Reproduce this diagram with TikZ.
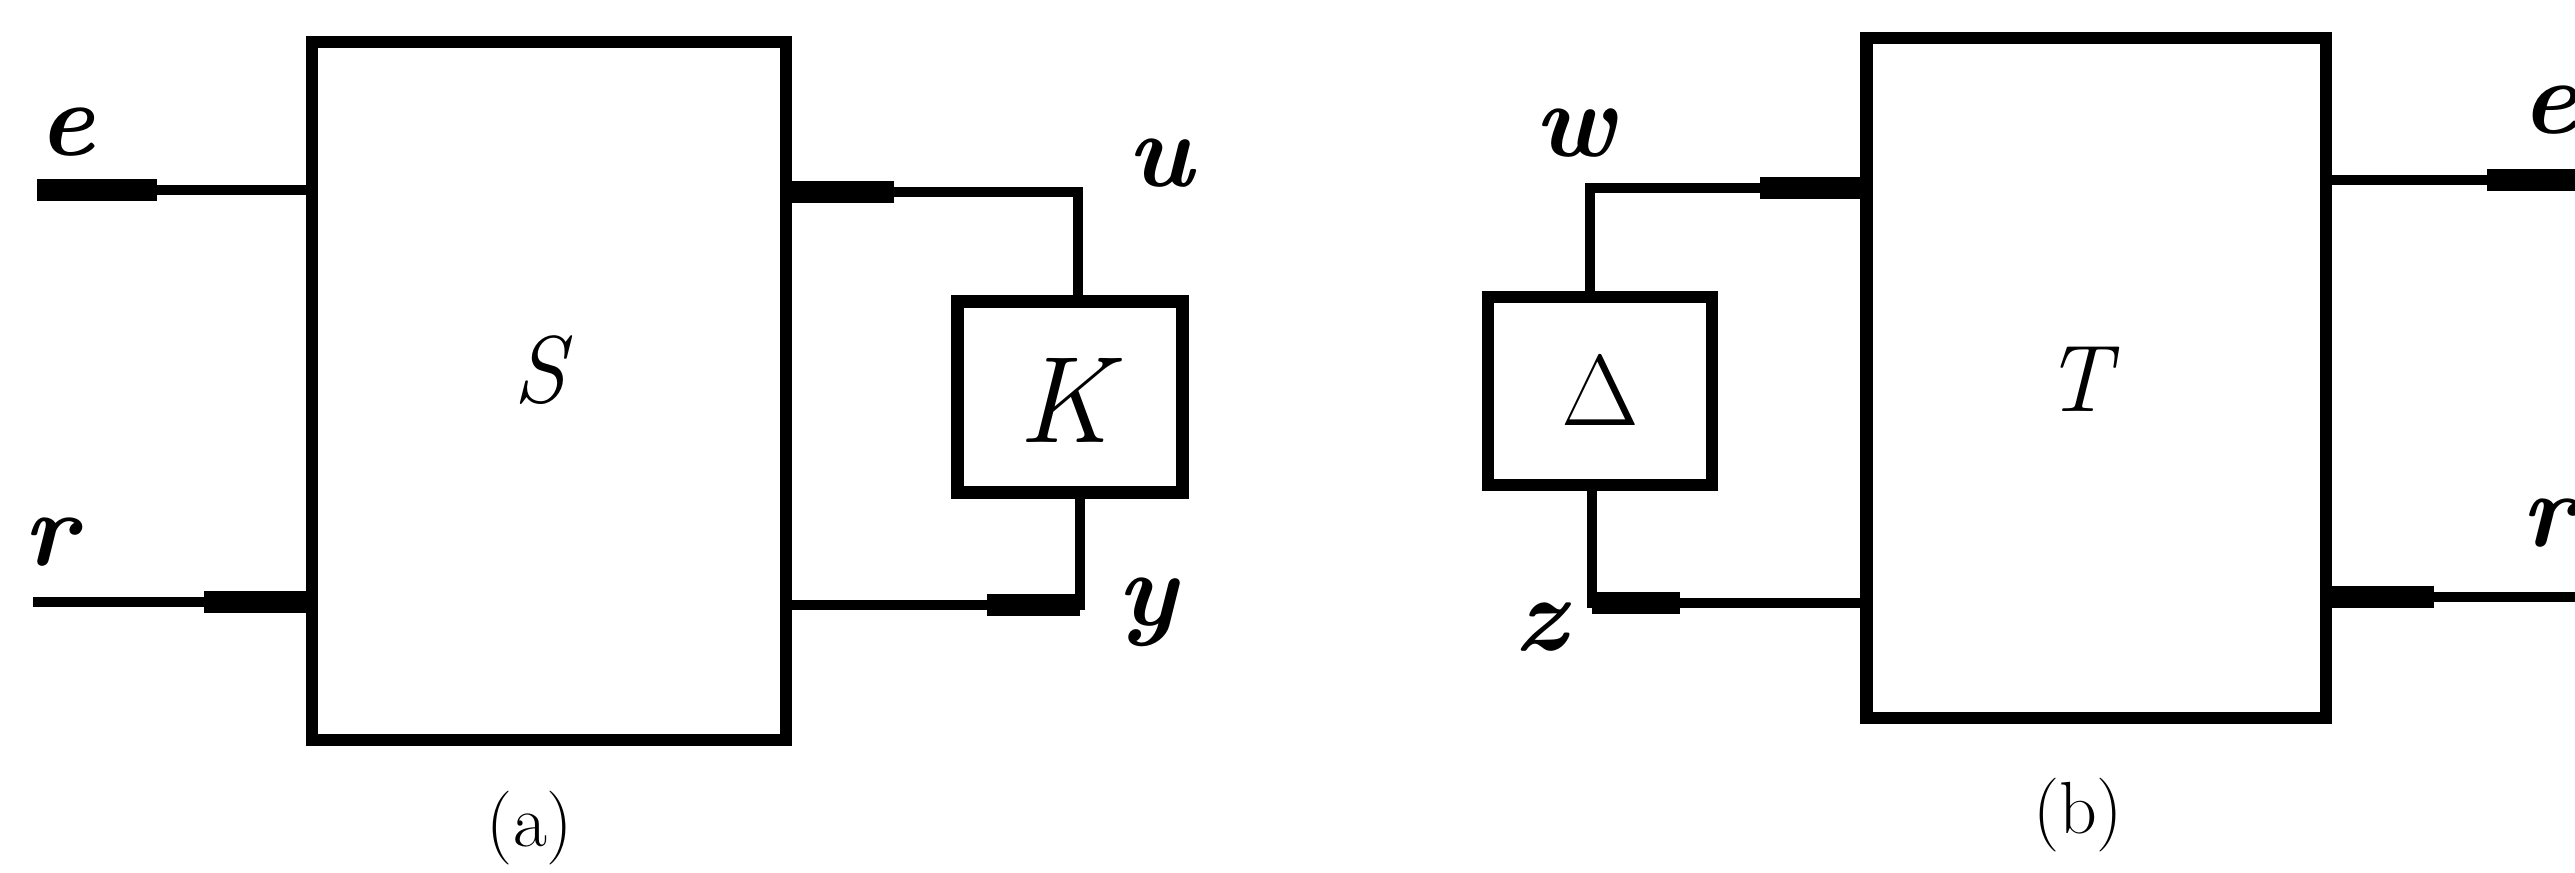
\documentclass[tikz,border=0pt]{standalone}
\usepackage{graphicx}
\begin{document}
\begin{tikzpicture}[x=0.01cm,y=-0.01cm,
  blk/.style={draw, line width=3.5pt, inner sep=0pt},
  wire/.style={line width=2.7pt},
  heavy/.style={line width=6.5pt},
  lab/.style={font=\fontsize{30}{36}\selectfont\bfseries\itshape, inner sep=0pt},
  big/.style={font=\fontsize{27}{32}\selectfont\itshape, inner sep=0pt},
  subcap/.style={font=\fontsize{21}{26}\selectfont, inner sep=0pt}]
\useasboundingbox (0,0) rectangle (2575,872);
% ---- (a) ----
\node[blk, minimum width=4.74cm, minimum height=6.98cm] (S) at (549,391) {};
\node[big] (Sl) at (540,370) {S};
\node[blk, minimum width=2.25cm, minimum height=1.91cm] (K) at (1070,397) {};
\node[big, font=\fontsize{35}{40}\selectfont\itshape] (Kl) at (1065,400) {K};
\coordinate (eA) at (37,190);
\coordinate (rA) at (33,602);
\coordinate (uA) at (1078,192);
\coordinate (yA) at (1080,605);
\draw[wire] (eA) -- (eA -| S.west);
\draw[heavy] (eA) -- ++(120,0);
\draw[wire] (rA) -- (rA -| S.west);
\draw[heavy] (rA -| S.west) -- ++(-102,0);
\draw[wire] (uA -| S.east) -- (uA) -- (uA |- K.north);
\draw[heavy] (uA -| S.east) -- ++(102,0);
\draw[wire] (yA |- K.south) -- (yA) -- (yA -| S.east);
\draw[heavy] (yA) -- ++(-93,0);
\node[lab] (le) at (67,132) {e};
\node[lab] (lr) at (50,542) {r};
\node[lab] (lu) at (1160,163) {u};
\node[lab] (ly) at (1147,612) {y};
\node[subcap] (ca) at (530,828) {(a)};
% ---- (b) ----
\node[blk, minimum width=4.59cm, minimum height=6.80cm] (T) at (2096,378) {};
\node[big] (Tl) at (2078,379) {T};
\node[blk, minimum width=2.24cm, minimum height=1.88cm] (D) at (1600,391) {};
\node[inner sep=0pt] (Dl) at (1600,391) {\scalebox{1.15}{\fontsize{24.88}{30}\selectfont$\Delta$}};
\coordinate (wB) at (1590,188);
\coordinate (zB) at (1592,603);
\coordinate (eB) at (2575,180);
\coordinate (rB) at (2575,597);
\draw[wire] (wB -| T.west) -- (wB) -- (wB |- D.north);
\draw[heavy] (wB -| T.west) -- ++(-100,0);
\draw[wire] (zB |- D.south) -- (zB) -- (zB -| T.west);
\draw[heavy] (zB) -- ++(88,0);
\draw[wire] (eB -| T.east) -- (eB);
\draw[heavy] (eB) -- ++(-88,0);
\draw[wire] (rB -| T.east) -- (rB);
\draw[heavy] (rB -| T.east) -- ++(102,0);
\node[lab] (lw) at (1575,133) {w};
\node[lab] (lz) at (1540,627) {z};
\node[lab] (le2) at (2550,110) {e};
\node[lab] (lr2) at (2548,523) {r};
\node[subcap] (cb) at (2078,815) {(b)};
\end{tikzpicture}
\end{document}
